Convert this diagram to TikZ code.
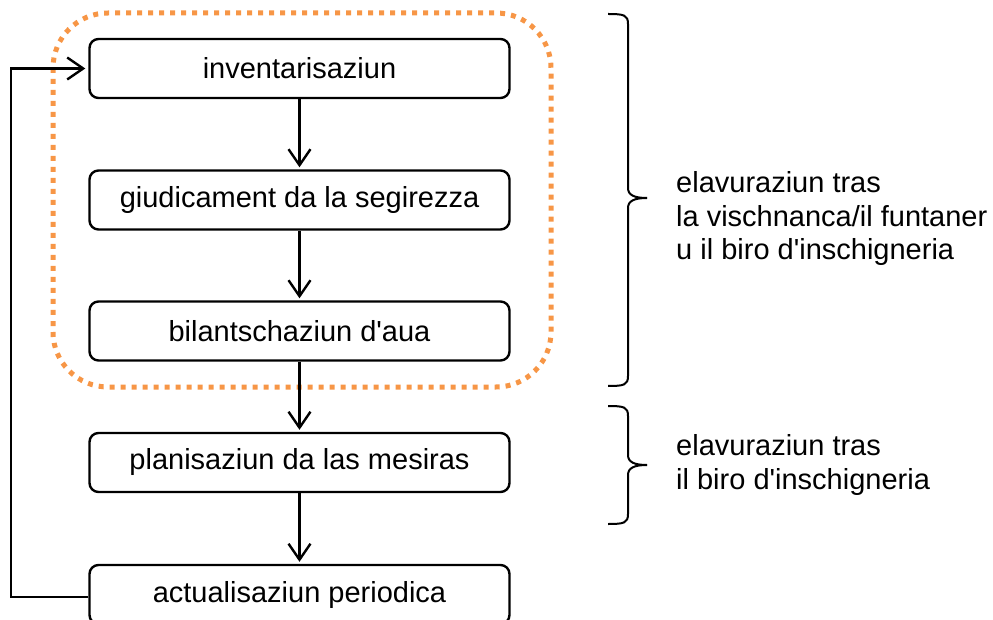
\documentclass[tikz,border=0pt]{standalone}
\usepackage{fontspec}
\setmainfont{Liberation Sans}[Ligatures=TeXOff]
\usetikzlibrary{arrows.meta}
\definecolor{dotorange}{HTML}{F79646}
\begin{document}
\begin{tikzpicture}[x=1pt,y=-1pt,
  stepbox/.style={draw,line width=2.4pt,rounded corners=9pt,minimum width=420pt,minimum height=59pt,inner sep=0pt,font=\fontsize{29}{33.5}\selectfont},
  arr/.style={line width=2.4pt,-{Straight Barb[length=16pt,width=22pt,line width=2.4pt]},shorten >=2pt},
  bracestyle/.style={line width=2pt},
  note/.style={font=\fontsize{29}{33.5}\selectfont,align=left,inner sep=0pt,anchor=base west}]
\useasboundingbox (0,0) rectangle (993,620);
\draw[dotorange,line width=5pt,dash pattern=on 5pt off 6pt,rounded corners=55pt] (53,13) rectangle (551,387);
\node[stepbox] (b1) at (299.5,68.5) {inventarisaziun};
\node[stepbox] (b2) at (299.5,200) {giudicament da la segirezza};
\node[stepbox] (b3) at (299.5,331) {bilantschaziun d'aua};
\node[stepbox] (b4) at (299.5,462.5) {planisaziun da las mesiras};
\node[stepbox] (b5) at (299.5,594.5) {actualisaziun periodica};
\draw[arr] (b1) -- (b2);
\draw[arr] (b2) -- (b3);
\draw[arr] (b3) -- (b4);
\draw[arr] (b4) -- (b5);
\coordinate (lp) at (11,597);
\draw[arr,shorten >=3pt] (b5.west |- lp) -- (lp) |- (b1.west);
% brace 1
\coordinate (p1a) at (608,14);
\coordinate (p1m) at (647,198);
\coordinate (p1b) at (608,386);
\draw[bracestyle] (p1a) .. controls (624,14) and (628,15) .. (628,24) -- (628,188)
  .. controls (628,195) and (634,198) .. (p1m);
\draw[bracestyle] (p1m) .. controls (634,198) and (628,201) .. (628,208) -- (628,376)
  .. controls (628,385) and (624,386) .. (p1b);
% brace 2
\coordinate (p2a) at (608,406);
\coordinate (p2m) at (647,465);
\coordinate (p2b) at (608,524);
\draw[bracestyle] (p2a) .. controls (624,406) and (628,407) .. (628,416) -- (628,455)
  .. controls (628,462) and (634,465) .. (p2m);
\draw[bracestyle] (p2m) .. controls (634,465) and (628,468) .. (628,475) -- (628,514)
  .. controls (628,523) and (624,524) .. (p2b);
\node[note] (t1) at (676,260) {elavuraziun tras\\la vischnanca/il funtaner\\u il biro d'inschigneria};
\node[note] (t2) at (676,489) {elavuraziun tras\\il biro d'inschigneria};
\end{tikzpicture}
\end{document}
